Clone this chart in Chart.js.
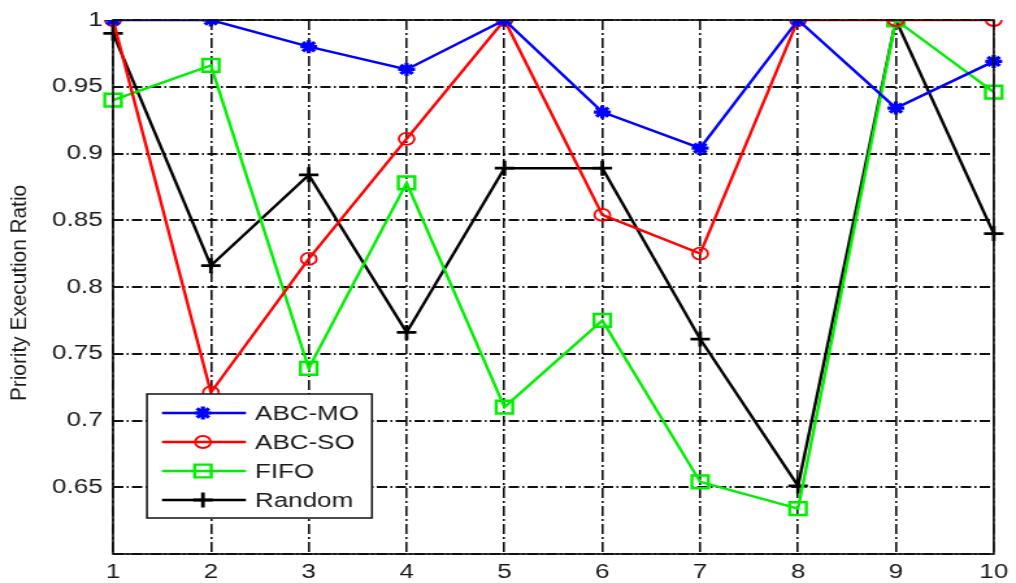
<!DOCTYPE html>
<html>
<head>
<meta charset="utf-8">
<script src="https://cdn.jsdelivr.net/npm/chart.js@4/dist/chart.umd.min.js"></script>
<style>
  html, body { margin: 0; padding: 0; background: #fff; overflow: hidden; }
  #wrap { width: 782px; height: 583px; transform: scaleX(1.2992); transform-origin: 0 0; }
  canvas { display: block; }
</style>
</head>
<body>
<div id="wrap"><canvas id="c" width="782" height="583"></canvas></div>
<script>
// Run index (x axis)
const runs = ['1', '2', '3', '4', '5', '6', '7', '8', '9', '10'];

// Priority execution ratio per scheduler
const abcMO  = [1.000, 1.000, 0.980, 0.963, 1.000, 0.931, 0.904, 1.000, 0.934, 0.969];
const abcSO  = [1.000, 0.721, 0.821, 0.911, 1.000, 0.854, 0.825, 1.000, 1.000, 1.000];
const fifo   = [0.940, 0.966, 0.739, 0.878, 0.710, 0.775, 0.654, 0.634, 1.000, 0.946];
const random = [0.990, 0.816, 0.884, 0.766, 0.889, 0.889, 0.761, 0.651, 1.000, 0.840];

const seriesNames = ['ABC-MO', 'ABC-SO', 'FIFO', 'Random'];
const yTitle = 'Priority Execution Ratio';

const FONT = "'Liberation Sans', Arial, sans-serif";

function series(label, data, color, style, radius, pw) {
  return {
    label, data,
    borderColor: color, borderWidth: 2.4,
    pointStyle: style, pointRadius: radius, pointHoverRadius: radius,
    pointBorderColor: color, pointBackgroundColor: 'rgba(0,0,0,0)',
    pointBorderWidth: pw, tension: 0, fill: false
  };
}

// draw a marker shape like the chart's own point styles
function marker(ctx, style, x, y, r, color, lw) {
  ctx.save();
  ctx.strokeStyle = color; ctx.lineWidth = lw;
  ctx.beginPath();
  if (style === 'circle') {
    ctx.arc(x, y, r, 0, Math.PI * 2);
  } else if (style === 'rect') {
    const s = r * Math.SQRT1_2;
    ctx.rect(x - s, y - s, 2 * s, 2 * s);
  } else if (style === 'cross') {
    ctx.moveTo(x, y - r); ctx.lineTo(x, y + r);
    ctx.moveTo(x - r, y); ctx.lineTo(x + r, y);
  } else if (style === 'star') {
    ctx.moveTo(x, y - r); ctx.lineTo(x, y + r);
    ctx.moveTo(x - r, y); ctx.lineTo(x + r, y);
    const d = r * Math.SQRT1_2;
    ctx.moveTo(x - d, y - d); ctx.lineTo(x + d, y + d);
    ctx.moveTo(x - d, y + d); ctx.lineTo(x + d, y - d);
  }
  ctx.stroke();
  ctx.restore();
}

const framePlugin = {
  id: 'frame',
  afterDatasetsDraw(chart) {
    const {ctx, chartArea: a} = chart;
    ctx.save();
    ctx.strokeStyle = '#111';
    ctx.lineWidth = 1.7;
    ctx.strokeRect(a.left, a.top, a.right - a.left, a.bottom - a.top);
    ctx.restore();
  },
  afterDraw(chart) {
    const ctx = chart.ctx;
    // vertical axis title
    ctx.save();
    ctx.translate(15.8, 293);
    ctx.rotate(-Math.PI / 2);
    ctx.scale(1.3, 1);
    ctx.font = '16px ' + FONT;
    ctx.fillStyle = '#1a1a1a';
    ctx.textAlign = 'center';
    ctx.textBaseline = 'middle';
    ctx.fillText(yTitle, 0, 0);
    ctx.restore();

    // legend box inside the plot
    const bx = 113.1, by = 394, bw = 173.2, bh = 124;
    ctx.save();
    ctx.fillStyle = '#fff';
    ctx.fillRect(bx, by, bw, bh);
    ctx.strokeStyle = '#111';
    ctx.lineWidth = 1.5;
    ctx.strokeRect(bx, by, bw, bh);
    const rows = [413, 442, 471, 500];
    chart.data.datasets.forEach((ds, i) => {
      const y = rows[i];
      ctx.strokeStyle = ds.borderColor;
      ctx.lineWidth = 2.6;
      ctx.beginPath();
      ctx.moveTo(124.7, y); ctx.lineTo(189.3, y);
      ctx.stroke();
      marker(ctx, ds.pointStyle, 156.2, y, ds.pointRadius, ds.pointBorderColor, ds.pointBorderWidth);
      ctx.fillStyle = '#1a1a1a';
      ctx.font = '20px ' + FONT;
      ctx.textBaseline = 'middle';
      ctx.textAlign = 'left';
      ctx.fillText(ds.label, 196.3, y + 1);
    });
    ctx.restore();
  }
};

new Chart(document.getElementById('c'), {
  type: 'line',
  data: {
    labels: runs,
    datasets: [
      series(seriesNames[0], abcMO, '#0000ff', 'star', 6.5, 3.2),
      series(seriesNames[1], abcSO, '#ff0000', 'circle', 6, 1.8),
      series(seriesNames[2], fifo, '#00ee00', 'rect', 9, 2.4),
      series(seriesNames[3], random, '#000000', 'cross', 7.5, 2.8)
    ]
  },
  options: {
    responsive: false,
    devicePixelRatio: 1,
    animation: false,
    events: [],
    layout: { padding: { top: 18, right: 12.3, left: 0, bottom: 0 } },
    plugins: { legend: { display: false }, tooltip: { enabled: false } },
    scales: {
      x: {
        type: 'category',
        offset: false,
        grid: { color: '#111', lineWidth: 1.6, drawTicks: false, offset: false },
        border: { display: false, dash: [10, 3, 2, 3] },
        ticks: { color: '#1a1a1a', font: { family: FONT, size: 20 }, padding: 6, maxRotation: 0, autoSkip: false },
        afterFit(s) { s.height = 29; }
      },
      y: {
        min: 0.6, max: 1.0,
        grid: { color: '#111', lineWidth: 1.9, drawTicks: false },
        border: { display: false, dash: [8, 2.5, 1.5, 2.5] },
        ticks: {
          stepSize: 0.05,
          color: '#1a1a1a',
          font: { family: FONT, size: 20 },
          padding: 8,
          callback(v) {
            if (v < 0.601) return '';
            return String(Number(v.toFixed(2)));
          }
        },
        afterFit(s) { s.width = 87; }
      }
    }
  },
  plugins: [framePlugin]
});
</script>
</body>
</html>
